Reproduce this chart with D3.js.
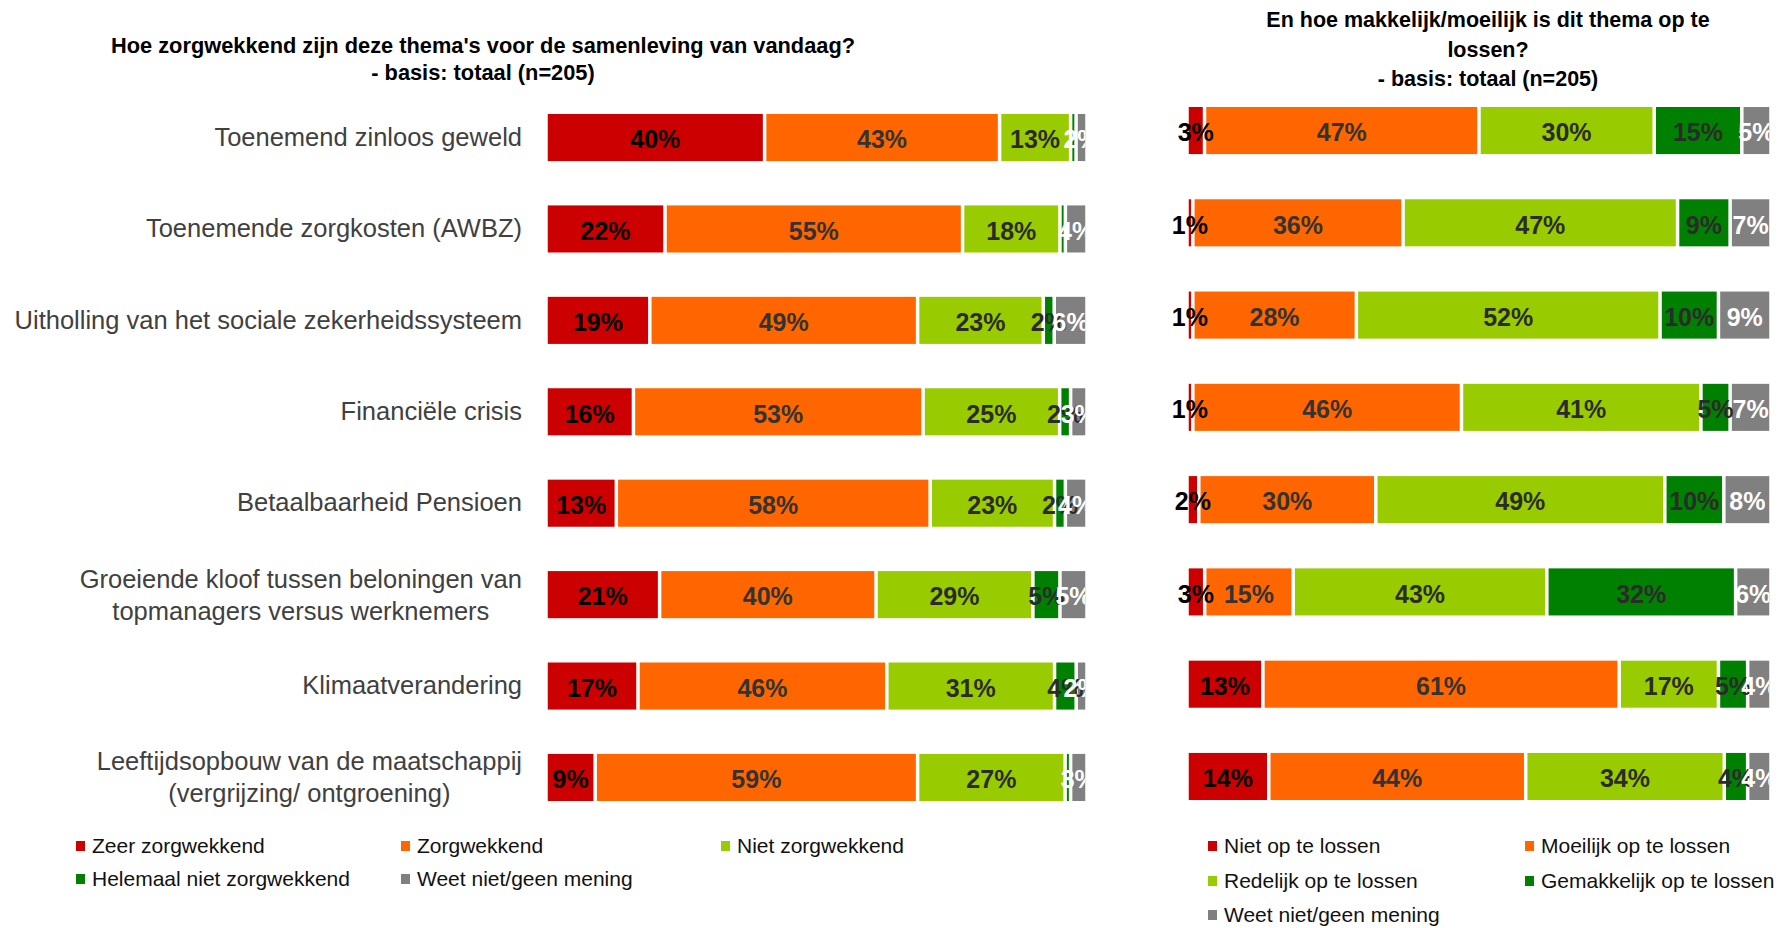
<!DOCTYPE html>
<html>
<head>
<meta charset="utf-8">
<script src="https://cdn.jsdelivr.net/npm/d3@7"></script>
<style>
  body { margin: 0; background: #fff; }
  svg { display: block; font-family: "Liberation Sans", Arial, sans-serif; }
</style>
</head>
<body>
<svg id="chart" width="1787" height="928"></svg>
<script>
// ---------- DATA ----------
const categories = [
  "Toenemend zinloos geweld",
  "Toenemende zorgkosten (AWBZ)",
  "Uitholling van het sociale zekerheidssysteem",
  "Financiële crisis",
  "Betaalbaarheid Pensioen",
  "Groeiende kloof tussen beloningen van\ntopmanagers versus werknemers",
  "Klimaatverandering",
  "Leeftijdsopbouw van de maatschappij\n(vergrijzing/ ontgroening)"
];

// Left chart: concern
const leftSeries = ["Zeer zorgwekkend", "Zorgwekkend", "Niet zorgwekkend", "Helemaal niet zorgwekkend", "Weet niet/geen mening"];
const zeerZorgwekkend      = [40, 22, 19, 16, 13, 21, 17, 9];
const zorgwekkend          = [43, 55, 49, 53, 58, 40, 46, 59];
const nietZorgwekkend      = [13, 18, 23, 25, 23, 29, 31, 27];
const helemaalNiet         = [1, 1, 2, 2, 2, 5, 4, 1];
const weetNietLinks        = [2, 4, 6, 3, 4, 5, 2, 3];

// Right chart: solvability
const rightSeries = ["Niet op te lossen", "Moeilijk op te lossen", "Redelijk op te lossen", "Gemakkelijk op te lossen", "Weet niet/geen mening"];
const nietOpTeLossen       = [3, 1, 1, 1, 2, 3, 13, 14];
const moeilijk             = [47, 36, 28, 46, 30, 15, 61, 44];
const redelijk             = [30, 47, 52, 41, 49, 43, 17, 34];
const gemakkelijk          = [15, 9, 10, 5, 10, 32, 5, 4];
const weetNietRechts       = [5, 7, 9, 7, 8, 6, 4, 4];

const leftTitle  = ["Hoe zorgwekkend zijn deze thema's voor de samenleving van vandaag?", "- basis: totaal (n=205)"];
const rightTitle = ["En hoe makkelijk/moeilijk is dit thema op te", "lossen?", "- basis: totaal (n=205)"];

// ---------- STYLE ----------
const segColors   = ["#CC0000", "#FF6600", "#99CC00", "#008000", "#808080"];
const labelColors = ["#000000", "#333333", "#2b2b2b", "#2b2b2b", "#ffffff"];

const svg = d3.select("#chart");
svg.append("rect").attr("width", 1787).attr("height", 928).attr("fill", "#fff");

function drawChart(cfg) {
  const keys = cfg.series;
  const rows = categories.map((c, i) => {
    const r = { cat: c };
    keys.forEach((k, j) => r[k] = cfg.values[j][i]);
    return r;
  });
  const stacked = d3.stack().keys(keys).offset(d3.stackOffsetExpand)(rows);

  const x = d3.scaleLinear().domain([0, 1]).range([cfg.x0, cfg.x1]);
  const y = d3.scaleBand().domain(categories).range([cfg.y0, cfg.y1])
    .paddingInner(cfg.padInner).paddingOuter(0);
  const gap = 3.5;

  const g = svg.append("g");
  const clipId = "clip-" + cfg.id;
  svg.append("clipPath").attr("id", clipId)
    .append("rect").attr("x", 0).attr("y", 0)
    .attr("width", cfg.x1 - gap / 2).attr("height", 928);

  stacked.forEach((layer, si) => {
    g.append("g").selectAll("rect").data(layer).join("rect")
      .attr("x", d => x(d[0]) + gap / 2)
      .attr("y", d => y(d.data.cat))
      .attr("width", d => Math.max(x(d[1]) - x(d[0]) - gap, 1))
      .attr("height", y.bandwidth())
      .attr("fill", segColors[si]);
  });

  const lg = g.append("g").attr("clip-path", `url(#${clipId})`);
  stacked.forEach((layer, si) => {
    const key = keys[si];
    lg.append("g").selectAll("text")
      .data(layer.filter(d => d.data[key] >= cfg.minLabel))
      .join("text")
      .attr("x", d => (x(d[0]) + x(d[1])) / 2)
      .attr("y", d => y(d.data.cat) + y.bandwidth() / 2 + 2)
      .attr("dy", "0.35em")
      .attr("text-anchor", "middle")
      .attr("font-size", 25)
      .attr("font-weight", "bold")
      .attr("fill", labelColors[si])
      .text(d => d.data[key] + "%");
  });

  if (cfg.showAxis) {
    const ax = svg.append("g").attr("transform", `translate(${cfg.x0},0)`)
      .call(d3.axisLeft(y).tickSize(0).tickPadding(24));
    ax.select(".domain").remove();
    ax.selectAll(".tick text")
      .attr("font-size", 25.5)
      .attr("font-family", "Liberation Sans, Arial, sans-serif")
      .attr("fill", "#404040")
      .each(function (d) {
        const lines = d.split("\n");
        if (lines.length < 2) return;
        const t = d3.select(this);
        t.text(null).attr("dy", null);
        const spans = lines.map((ln, i) => t.append("tspan")
          .attr("x", -24)
          .attr("y", (i - (lines.length - 1) / 2) * 32)
          .attr("dy", "0.35em")
          .text(ln));
        const maxW = d3.max(spans, s => s.node().getComputedTextLength());
        t.attr("text-anchor", "middle");
        spans.forEach(s => s.attr("x", -24 - maxW / 2));
      });
  }

  // title
  const tt = svg.append("g");
  cfg.title.forEach((ln, i) => {
    tt.append("text")
      .attr("x", cfg.titleX).attr("y", cfg.titleY[i])
      .attr("text-anchor", "middle")
      .attr("font-size", cfg.titleSize).attr("font-weight", "bold")
      .attr("fill", "#000")
      .text(ln);
  });

  // legend
  const leg = svg.append("g");
  keys.forEach((k, i) => {
    const col = i % cfg.legendCols.length;
    const row = Math.floor(i / cfg.legendCols.length);
    const lx = cfg.legendCols[col], ly = cfg.legendRows[row];
    leg.append("rect").attr("x", lx).attr("y", ly - 5).attr("width", 9).attr("height", 10)
      .attr("fill", segColors[i]);
    leg.append("text").attr("x", lx + 16).attr("y", ly).attr("dy", "0.35em")
      .attr("font-size", 21).attr("fill", "#111").text(k);
  });
}

drawChart({
  id: "left",
  series: leftSeries,
  values: [zeerZorgwekkend, zorgwekkend, nietZorgwekkend, helemaalNiet, weetNietLinks],
  x0: 546, x1: 1087,
  y0: 114, y1: 801, padInner: 0.485,
  minLabel: 1.5,
  showAxis: true,
  title: leftTitle, titleX: 483, titleY: [53, 80], titleSize: 21.8,
  legendCols: [76, 401, 721], legendRows: [846, 879]
});

drawChart({
  id: "right",
  series: rightSeries,
  values: [nietOpTeLossen, moeilijk, redelijk, gemakkelijk, weetNietRechts],
  x0: 1187, x1: 1771,
  y0: 107, y1: 800, padInner: 0.49,
  minLabel: 0,
  showAxis: false,
  title: rightTitle, titleX: 1488, titleY: [27, 57, 86], titleSize: 21.5,
  legendCols: [1208, 1525], legendRows: [846, 881, 915]
});
</script>
</body>
</html>
